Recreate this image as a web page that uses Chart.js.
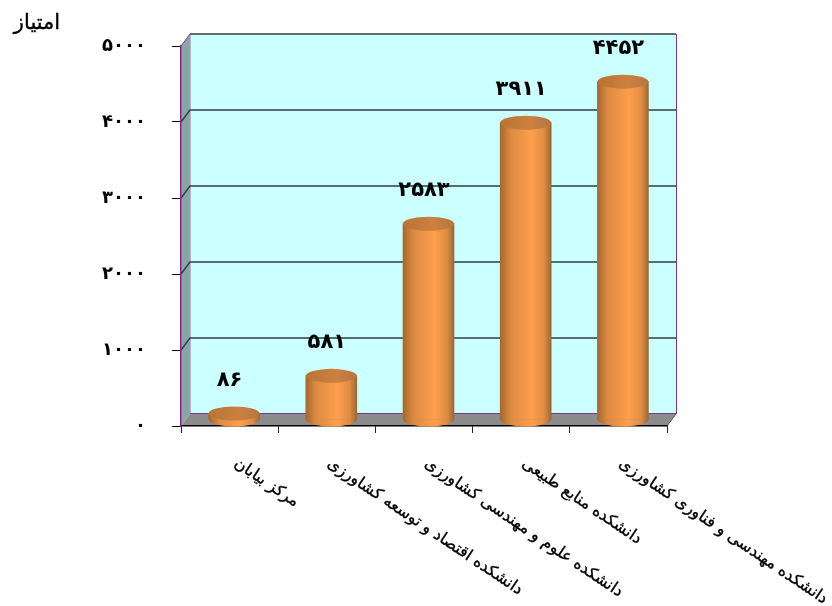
<!DOCTYPE html>
<html lang="fa">
<head>
<meta charset="utf-8">
<title>امتیاز دانشکده‌ها</title>
<script src="https://cdn.jsdelivr.net/npm/chart.js@4"></script>
<style>
  html, body { margin: 0; padding: 0; background: #fff; }
  #wrap { width: 832px; height: 606px; }
</style>
</head>
<body>
<div id="wrap"><canvas id="scoreChart" width="832" height="606"></canvas></div>
<script>
const categories = [
  "مرکز بیابان",
  "دانشکده اقتصاد و توسعه کشاورزی",
  "دانشکده علوم و مهندسی کشاورزی",
  "دانشکده منابع طبیعی",
  "دانشکده مهندسی و فناوری کشاورزی"
];
const scores = [86, 581, 2583, 3911, 4452];
const axisTitle = "امتیاز";

const FONT = '"DejaVu Sans", "Noto Sans", sans-serif';
// depth of the fake 3d box
const DX = 9, DY = -12;
const RY = 7; // cylinder cap

const fa = n => String(n).replace(/\d/g, d => "۰۱۲۳۴۵۶۷۸۹"[d]);

function bodyGradient(c, x, w) {
  const g = c.createLinearGradient(x - w / 2, 0, x + w / 2, 0);
  g.addColorStop(0, "#a4682e");
  g.addColorStop(0.2, "#dc8a42");
  g.addColorStop(0.62, "#ff9e4c");
  g.addColorStop(0.86, "#e08c44");
  g.addColorStop(1, "#9a6a36");
  return g;
}

// back wall, side wall, floor and the grid lines running round them
const box3d = {
  id: "box3d",
  beforeDraw(chart) {
    const { ctx, chartArea: a, scales: { y } } = chart;
    ctx.save();
    ctx.fillStyle = "#ccffff";
    ctx.fillRect(a.left + DX, a.top + DY, a.width, a.height);
    ctx.fillStyle = "#88a6a6";
    ctx.beginPath();
    ctx.moveTo(a.left, a.top);
    ctx.lineTo(a.left + DX, a.top + DY);
    ctx.lineTo(a.left + DX, a.bottom + DY);
    ctx.lineTo(a.left, a.bottom);
    ctx.fill();
    ctx.fillStyle = "#8c8c8c";
    ctx.beginPath();
    ctx.moveTo(a.left, a.bottom);
    ctx.lineTo(a.left + DX, a.bottom + DY);
    ctx.lineTo(a.right + DX, a.bottom + DY);
    ctx.lineTo(a.right, a.bottom);
    ctx.fill();

    ctx.lineWidth = 1;
    ctx.strokeStyle = "#b9b4e6";
    ctx.beginPath();
    ctx.moveTo(a.left + DX + 0.5, a.top + DY);
    ctx.lineTo(a.left + DX + 0.5, a.bottom + DY);
    ctx.stroke();

    ctx.lineWidth = 1;
    ctx.strokeStyle = "#7a3a8a";
    ctx.beginPath();
    ctx.moveTo(a.left, a.top);
    ctx.lineTo(a.left + DX, a.top + DY);
    ctx.moveTo(a.left + DX, a.bottom + DY - 0.5);
    ctx.lineTo(a.right + DX, a.bottom + DY - 0.5);
    ctx.moveTo(a.right + DX + 0.5, a.top + DY);
    ctx.lineTo(a.right + DX + 0.5, a.bottom + DY);
    ctx.stroke();

    // grid
    ctx.lineWidth = 1.4;
    ctx.strokeStyle = "#2f3f3f";
    y.ticks.forEach((t, i) => {
      if (t.value === 0) return;
      const py = y.getPixelForTick(i);
      ctx.beginPath();
      if (t.value < y.max) {
        ctx.moveTo(a.left, py);
        ctx.lineTo(a.left + DX, py + DY);
      } else {
        ctx.moveTo(a.left + DX, py + DY);
      }
      ctx.lineTo(a.right + DX, py + DY);
      ctx.stroke();
    });

    ctx.lineWidth = 1;
    ctx.strokeStyle = "#555";
    ctx.beginPath();
    ctx.moveTo(a.right, a.bottom);
    ctx.lineTo(a.right + DX, a.bottom + DY);
    ctx.stroke();
    ctx.restore();
  }
};

// the library draws the bar bodies, shifted half way into the box; caps added here
const cylinders = {
  id: "cylinders",
  beforeDatasetsDraw(chart) {
    chart.ctx.save();
    chart.ctx.translate(DX / 2, DY / 2);
  },
  afterDatasetsDraw(chart) {
    const ctx = chart.ctx;
    chart.getDatasetMeta(0).data.forEach(bar => {
      const r = bar.width / 2;
      ctx.fillStyle = bodyGradient(ctx, bar.x, bar.width);
      ctx.beginPath();
      ctx.ellipse(bar.x, bar.base, r, RY, 0, 0, Math.PI);
      ctx.fill();
      const top = ctx.createLinearGradient(bar.x - r, 0, bar.x + r, 0);
      top.addColorStop(0, "#b87434");
      top.addColorStop(0.6, "#cc8040");
      top.addColorStop(1, "#b47640");
      ctx.fillStyle = top;
      ctx.beginPath();
      ctx.ellipse(bar.x, bar.y, r, RY, 0, 0, Math.PI * 2);
      ctx.fill();
    });
    ctx.restore();
  }
};

const texts = {
  id: "texts",
  afterDraw(chart) {
    const { ctx, scales: { x } } = chart;
    ctx.save();
    ctx.fillStyle = "#000";
    ctx.strokeStyle = "#000";
    ctx.direction = "rtl";

    // value labels above the bars
    ctx.font = "bold 21px " + FONT;
    ctx.textAlign = "center";
    ctx.textBaseline = "middle";
    chart.getDatasetMeta(0).data.forEach((bar, i) => {
      ctx.fillText(fa(scores[i]), bar.x, bar.y - 39);
    });

    // category labels hang down to the right of each slot
    ctx.font = "16px " + FONT;
    ctx.lineWidth = 0.35;
    categories.forEach((label, i) => {
      ctx.save();
      ctx.translate(x.getPixelForTick(i) + (i === 0 ? 6 : 2), 462);
      ctx.rotate(34 * Math.PI / 180);
      ctx.textAlign = "left";
      ctx.fillText(label, 0, 0);
      ctx.strokeText(label, 0, 0);
      ctx.restore();
    });

    ctx.font = "21px " + FONT;
    ctx.textAlign = "center";
    ctx.fillText(axisTitle, 37, 24);
    ctx.strokeText(axisTitle, 37, 24);
    ctx.restore();
  }
};

new Chart(document.getElementById("scoreChart"), {
  type: "bar",
  data: {
    labels: categories,
    datasets: [{
      data: scores,
      barThickness: 51,
      clip: false,
      borderWidth: 0,
      backgroundColor: c => {
        if (c.dataIndex === undefined) return "#ff9e4c";
        const x = c.chart.scales.x.getPixelForValue(c.dataIndex);
        return Number.isFinite(x) ? bodyGradient(c.chart.ctx, x, 51) : "#ff9e4c";
      }
    }]
  },
  plugins: [box3d, cylinders, texts],
  options: {
    responsive: false,
    animation: false,
    layout: { padding: { top: 46, right: 165, left: 0, bottom: 0 } },
    plugins: { legend: { display: false }, tooltip: { enabled: false } },
    scales: {
      x: {
        afterFit: s => { s.height = 180; },
        border: { color: "#000", width: 1.4 },
        grid: { drawOnChartArea: false, tickLength: 7, color: "#222", offset: true },
        ticks: { display: false }
      },
      y: {
        min: 0,
        max: 5000,
        afterFit: s => { s.width = 181; },
        border: { color: "#8a1f8a", width: 1.4 },
        grid: { drawOnChartArea: false, tickLength: 9, color: "#000" },
        ticks: {
          stepSize: 1000,
          padding: 26,
          color: "#000",
          font: { family: FONT, size: 18, weight: "bold" },
          callback: v => fa(v)
        }
      }
    }
  }
});
</script>
</body>
</html>
